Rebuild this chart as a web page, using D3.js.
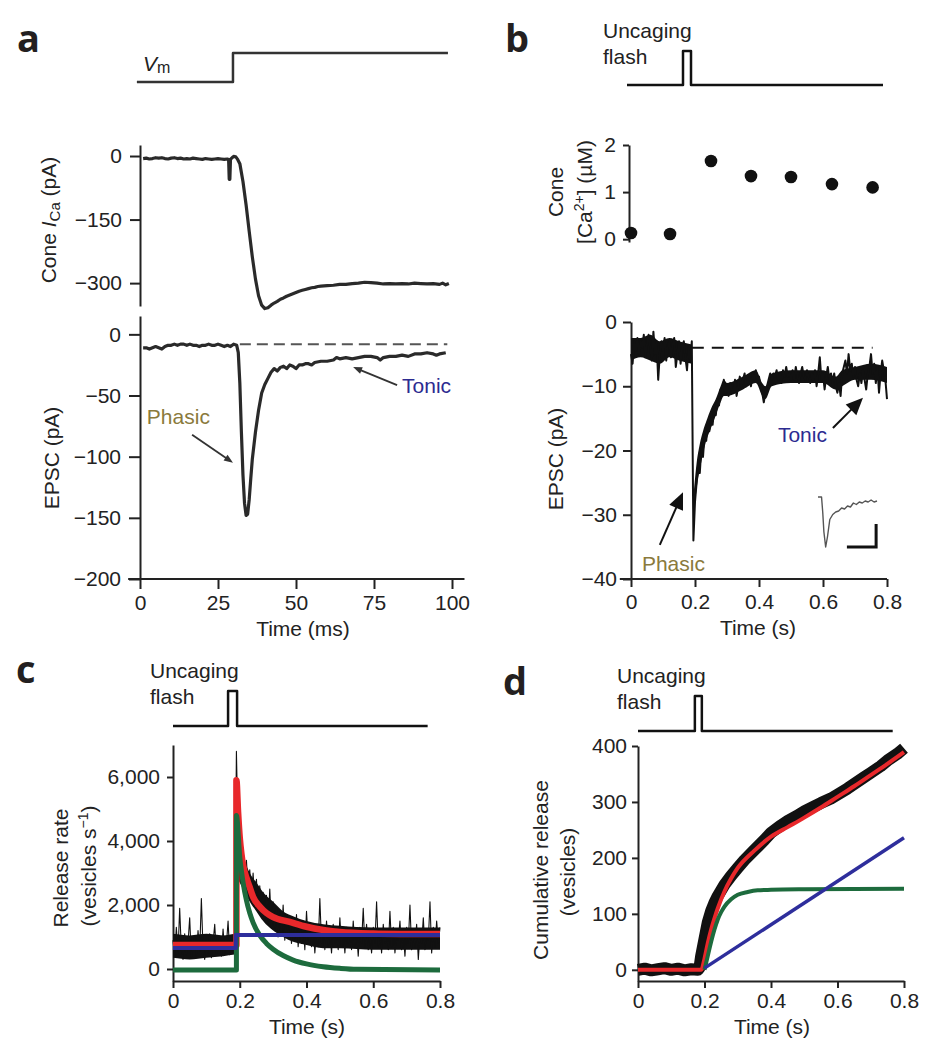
<!DOCTYPE html>
<html><head><meta charset="utf-8">
<script src="https://cdn.jsdelivr.net/npm/d3@7"></script>
<style>
body{margin:0;background:#fff;}
svg{display:block;}
</style></head><body>
<svg id="fig" width="931" height="1050"></svg>
<script>
// ---------------- DATA ----------------
// Panel a: voltage step (schematic), cone ICa and EPSC (time in ms, current in pA)
const vmStep = [[-1,0],[29.8,0],[29.8,1],[98.7,1]];
const icaTrace = [[1,-6],[2,-5],[3,-7],[4,-6],[5,-4],[6,-5],[7,-4],[8,-6],[9,-7],[10,-5],[11,-4],[12,-6],[13,-5],[14,-7],[15,-6],[16,-7],[17,-5],[18,-6],[19,-7],[20,-8],[21,-6],[22,-7],[23,-8],[24,-7],[25,-6],[26,-7],[27,-8],[28,-7],[28.4,-8],[28.6,-55],[28.8,-55],[29,-8],[29.5,-4],[30,-1],[30.7,-2],[31.3,-8],[32,-18],[33,-60],[34,-115],[35,-178],[36,-238],[37,-290],[38,-330],[39,-352],[40,-360],[41,-358],[42,-352],[43,-347],[44,-343],[45,-338],[46,-335],[47,-331],[48,-328],[49,-325],[50,-322],[51,-319],[52,-317],[53,-315],[54,-313],[55,-311],[56,-310],[57,-308],[58,-307],[60,-306],[62,-305],[64,-303],[66,-303],[68,-301],[70,-300],[72,-298],[74,-299],[76,-300],[78,-302],[80,-301],[82,-302],[84,-301],[86,-302],[88,-300],[90,-301],[92,-302],[94,-301],[96,-303],[97,-300],[98,-304],[99,-301]];
const epscATrace = [[1,-11],[2,-11],[3,-12],[4,-11],[5,-10],[6,-11],[7,-12],[8,-10],[9,-9],[10,-9],[11,-8],[12,-9],[13,-8],[14,-8],[15,-9],[16,-8],[17,-9],[18,-9],[19,-10],[20,-9],[21,-9],[22,-8],[23,-9],[24,-9],[25,-8],[26,-9],[27,-10],[28,-9],[29,-10],[30,-8],[31,-9],[31.5,-15],[32,-40],[32.5,-80],[33,-115],[33.5,-138],[34,-148],[34.5,-147],[35,-135],[35.5,-118],[36,-102],[37,-80],[38,-62],[39,-48],[40,-41],[41,-36],[42,-31],[43,-28],[44,-30],[45,-27],[46,-26],[47,-28],[48,-25],[49,-26],[50,-28],[51,-25],[52,-25],[53,-24],[54,-24],[55,-25],[56,-23],[58,-22],[60,-22],[62,-21],[63,-19],[64,-20],[66,-19],[68,-20],[70,-19],[72,-18],[74,-18],[76,-19],[77,-21],[78,-19],[80,-18],[82,-18],[84,-17],[86,-18],[88,-16],[90,-16],[92,-15],[94,-16],[95,-17],[96,-16],[98,-15]];
const epscABaseline = [[32,-8],[98.5,-8]];
const icaTicks = [0,-150,-300];
const icaTickLabels = ["0","\u2212150","\u2212300"];
const epscATicks = [0,-50,-100,-150,-200];
const epscATickLabels = ["0","\u221250","\u2212100","\u2212150","\u2212200"];
const timeATicks = [0,25,50,75,100];
const timeATickLabels = ["0","25","50","75","100"];

// Panel b: flash, cone [Ca2+] (uM), EPSC (pA), time in s
const flashB = [[-0.0125,0],[0.1625,0],[0.1625,1],[0.1875,1],[0.1875,0],[0.7875,0]];
const caTimes = [0, 0.122, 0.25, 0.375, 0.5, 0.628, 0.755];
const caValues = [0.13, 0.11, 1.66, 1.34, 1.32, 1.17, 1.10];
const epscBStep = 0.005;
const epscBValues = [-5,-6.5,-3,-4.5,-2.5,-5,-3,-4,-2,-5.5,-3.5,-2,-4,-6,-1.5,-5,-3,-9,-5,-3,-4.5,-2.5,-6,-4,-3,-5.5,-3.5,-2.5,-7,-5,-3,-6.5,-4,-3,-5.5,-7.5,-4,-6,-3,
 -34,-28,-25,-22,-23.5,-19.5,-21,-17.5,-18.5,-16,-17,-15,-16,-13.5,-14.5,-12,-13,-10.5,-11.5,-9,-11,-10,-11.5,-9.5,-10.5,-11,-9,-11.5,-10,-8.5,-10,-9,-8,-10,-9,-8.5,-10,-8,-9,-7.5,-9,-8.5,-10,-11,-12.5,-11,-10,-9,-8,-9,-8,-8.5,-7.5,-9,-8,-9.5,-7.5,-8.5,-7,-8.5,-8,-9,
 -7.5,-9,-7,-8.5,-9.5,-8,-7,-8.5,-9,-7.5,-8.5,-9.5,-8,-9,-7.5,-10,-8,-5.5,-9,-8,-10.5,-8.5,-7,-9,-8,-9.5,-8,-10,-11,-9.5,-11.5,-8,-7,-6,-8,-5,-7.5,-6.5,-8.5,-7,-9,-10,-8,-9.5,-7.5,-9,-10.5,-8,-7,-5,-8,-6.5,-9.5,-7,-11,-8,-6,-7.5,-9,-12];
// dense core of the noisy EPSC trace: [t, low, high]
const epscBBandPre = [[0,-6,-2.5],[0.03,-5.5,-2.5],[0.06,-6,-2],[0.09,-6.5,-3],[0.12,-5.5,-2.5],[0.15,-6,-3],[0.19,-6.5,-3.5]];
const epscBBandPost = [[0.197,-30,-26],[0.205,-26,-22],[0.215,-23,-19],[0.225,-20.5,-17],[0.235,-18.5,-15.5],[0.25,-16.5,-13.5],[0.265,-14.5,-12],[0.28,-12.5,-10],[0.29,-11.5,-9],[0.3,-11.5,-9.5],[0.35,-10.5,-8.5],[0.39,-9.5,-7.5],[0.41,-11.5,-9.5],[0.42,-12,-10],[0.44,-10,-8],[0.5,-9.5,-7.5],[0.6,-9.5,-7.5],[0.64,-10.5,-8.5],[0.66,-10,-7.5],[0.7,-9,-7],[0.75,-9,-6.5],[0.8,-9.5,-7]];
const epscBBaseline = [[0.19,-4],[0.755,-4]];
const insetTrace = [[0,0],[0.06,0],[0.08,-0.3],[0.1,-0.7],[0.13,-1],[0.16,-0.8],[0.2,-0.45],[0.25,-0.35],[0.3,-0.3],[0.35,-0.28],[0.4,-0.22],[0.45,-0.24],[0.5,-0.18],[0.55,-0.2],[0.6,-0.12],[0.65,-0.15],[0.7,-0.1],[0.75,-0.12],[0.8,-0.08],[0.85,-0.1],[0.9,-0.06],[0.95,-0.1],[1,-0.08]];
const caTicks = [0,1,2];
const epscBTicks = [0,-10,-20,-30,-40];
const epscBTickLabels = ["0","\u221210","\u221220","\u221230","\u221240"];
const timeSTicks = [0,0.2,0.4,0.6,0.8];
const timeSTickLabels = ["0","0.2","0.4","0.6","0.8"];

// Panel c: release rate (vesicles/s)
const flashC = [[0,0],[0.165,0],[0.165,1],[0.192,1],[0.192,0],[0.763,0]];
const rateStep = 0.005;
const rateData = [900,400,1300,500,1900,600,300,1100,450,800,1600,350,700,1000,400,1200,550,2200,600,300,900,500,1100,350,800,1400,450,650,1000,400,1250,500,750,1500,450,900,600,1100,
 6800,
 4200,3500,2800,3600,2700,3400,2500,3100,2200,3000,2100,2800,1900,2600,1700,2400,1500,2300,1400,2500,1300,2100,1200,1900,1000,1800,1100,2000,900,1700,1000,1600,800,1500,900,1700,700,1400,800,1500,600,1800,900,1400,700,1300,500,1200,
 700,2200,800,1300,600,1500,700,1200,500,1400,800,1100,600,1600,700,1200,500,1300,800,1100,600,1500,700,1200,400,1300,800,1900,700,1400,600,1100,500,1300,800,2100,700,1200,500,1400,800,1100,600,1800,700,1300,500,1200,900,1500,600,1100,400,1300,800,2000,600,1200,700,1400,300,1100,800,1600,600,1200,900,2100,500,1300,700,1500,800,1300];
// dense core of the noisy trace: [t, low, high]
const rateBandPre = [[0,350,1100],[0.05,300,1050],[0.1,350,1100],[0.15,400,1050],[0.185,450,1100]];
const rateBandPost = [[0.195,2800,4000],[0.21,2500,3500],[0.23,2100,3000],[0.25,1800,2700],[0.27,1500,2400],[0.3,1200,2100],[0.33,1000,1800],[0.36,850,1650],[0.4,750,1500],[0.45,650,1400],[0.5,650,1350],[0.6,600,1300],[0.7,600,1300],[0.8,600,1300]];
const rateFitTotal = [[0,750],[0.19,750],[0.19,5900],[0.195,4900],[0.2,4100],[0.205,3600],[0.21,3250],[0.22,2850],[0.23,2550],[0.24,2250],[0.26,1950],[0.28,1750],[0.3,1620],[0.35,1470],[0.4,1320],[0.45,1220],[0.5,1160],[0.6,1110],[0.7,1095],[0.8,1090]];
const rateFitPhasic = [[0,-30],[0.19,-30],[0.19,4800],[0.2,3500],[0.21,2700],[0.22,2150],[0.23,1750],[0.24,1450],[0.26,1050],[0.28,800],[0.3,620],[0.33,420],[0.36,280],[0.4,160],[0.45,70],[0.5,20],[0.55,-10],[0.8,-30]];
const rateFitTonic = [[0,660],[0.188,660],[0.188,1060],[0.8,1060]];
const rateTicks = [0,2000,4000,6000];
const rateTickLabels = ["0","2,000","4,000","6,000"];

// Panel d: cumulative release (vesicles)
const flashD = [[0,0],[0.171,0],[0.171,1],[0.192,1],[0.192,0],[0.766,0]];
const cumData = [[0,0],[0.02,2],[0.04,-1],[0.06,1],[0.08,3],[0.1,0],[0.12,2],[0.14,-1],[0.16,1],[0.18,0],[0.185,4],[0.19,25],[0.2,55],[0.21,85],[0.22,105],[0.23,120],[0.24,132],[0.26,152],[0.28,168],[0.3,182],[0.32,196],[0.35,214],[0.38,232],[0.4,245],[0.43,258],[0.45,266],[0.48,276],[0.5,283],[0.53,292],[0.55,298],[0.58,306],[0.6,313],[0.63,324],[0.65,332],[0.68,344],[0.7,352],[0.73,364],[0.75,374],[0.78,386],[0.8,396]];
const cumFitTotal = [[0,0],[0.19,0],[0.2,20],[0.21,48],[0.22,72],[0.23,92],[0.24,110],[0.26,140],[0.28,163],[0.3,182],[0.35,213],[0.4,238],[0.45,255],[0.5,272],[0.55,290],[0.6,309],[0.65,328],[0.7,348],[0.75,368],[0.8,389]];
const cumFitPhasic = [[0.2,0],[0.21,25],[0.22,50],[0.23,72],[0.24,90],[0.25,103],[0.26,113],[0.28,126],[0.3,134],[0.33,139],[0.36,142],[0.4,143],[0.5,144],[0.8,145]];
const cumFitTonic = [[0.2,3],[0.8,236]];
const cumTicks = [0,100,200,300,400];
const cumTickLabels = ["0","100","200","300","400"];

// ---------------- DRAWING ----------------
const FONT = "'Liberation Sans', Arial, Helvetica, sans-serif";
const FS = 21;
const svg = d3.select("#fig");
svg.append("rect").attr("width",931).attr("height",1050).attr("fill","#fff");

function styleAxis(g){
  g.selectAll("path,line").attr("stroke","#222").attr("stroke-width",2);
  g.selectAll("text").attr("font-size",FS).attr("fill","#222").attr("font-family",FONT);
}
function drawLine(g, data, x, y, color, width, curve){
  return g.append("path").datum(data)
    .attr("d", d3.line().x(d=>x(d[0])).y(d=>y(d[1])).curve(curve||d3.curveLinear))
    .attr("fill","none").attr("stroke",color).attr("stroke-width",width)
    .attr("stroke-linejoin","round").attr("stroke-linecap","butt");
}
function drawBand(g, data, x, y, color){
  return g.append("path").datum(data)
    .attr("d", d3.area().x(d=>x(d[0])).y0(d=>y(d[1])).y1(d=>y(d[2])).curve(d3.curveMonotoneX))
    .attr("fill",color);
}
function text(g, x, y, str, opts={}){
  const t = g.append("text").attr("x",x).attr("y",y).text(str)
    .attr("font-family",opts.family||FONT).attr("font-size",opts.size||FS)
    .attr("fill",opts.fill||"#222");
  if(opts.weight) t.attr("font-weight",opts.weight);
  if(opts.anchor) t.attr("text-anchor",opts.anchor);
  return t;
}
function rotLabel(g, cx, cy, parts){
  const t = g.append("text").attr("transform",`translate(${cx},${cy}) rotate(-90)`)
    .attr("text-anchor","middle").attr("dy","0.35em")
    .attr("font-family",FONT).attr("font-size",FS).attr("fill","#222");
  parts.forEach(p=>{
    const s = t.append("tspan").text(p.t);
    if(p.italic) s.attr("font-style","italic");
    if(p.size) s.attr("font-size",p.size);
    if(p.dy) s.attr("dy",p.dy);
  });
  return t;
}
function arrow(g, x1,y1,x2,y2,len,hw,color,sw){
  const dx=x2-x1, dy=y2-y1, L=Math.hypot(dx,dy), ux=dx/L, uy=dy/L;
  const bx=x2-ux*len, by=y2-uy*len;
  g.append("line").attr("x1",x1).attr("y1",y1).attr("x2",bx+ux*1).attr("y2",by+uy*1)
    .attr("stroke",color).attr("stroke-width",sw);
  g.append("path").attr("d",`M${x2},${y2}L${bx-uy*hw},${by+ux*hw}L${bx+uy*hw},${by-ux*hw}Z`).attr("fill",color);
}
function panelLetter(x,y,s){
  text(svg,x,y,s,{family:"'Open Sans', 'Liberation Sans', sans-serif",size:38,weight:700,fill:"#231f20"});
}

const PHASIC = "#8a7a3c", TONIC = "#2c2b90";

// ===== Panel a =====
const gA = svg.append("g");
const xA = d3.scaleLinear().domain([0,100]).range([140,452]);
const yVm = d3.scaleLinear().domain([0,1]).range([82,53]);
const yIca = d3.scaleLinear().domain([26,-354]).range([145,306]);
const yEA = d3.scaleLinear().domain([15,-200]).range([316,579]);
panelLetter(17,52,"a");
drawLine(gA, vmStep, xA, yVm, "#333", 2.5);
const vm = gA.append("text").attr("x",143).attr("y",71).attr("font-family",FONT).attr("font-size",FS).attr("fill","#222");
vm.append("tspan").text("V").attr("font-style","italic");
vm.append("tspan").text("m").attr("font-size",16).attr("dy",2);

gA.append("g").attr("transform","translate(140,0)")
  .call(d3.axisLeft(yIca).tickValues(icaTicks).tickFormat((d,i)=>icaTickLabels[i]).tickSize(10).tickPadding(8).tickSizeOuter(0))
  .call(styleAxis);
gA.append("g").attr("transform","translate(140,0)")
  .call(d3.axisLeft(yEA).tickValues(epscATicks).tickFormat((d,i)=>epscATickLabels[i]).tickSize(11).tickPadding(8).tickSizeOuter(0))
  .call(styleAxis);
const axA = gA.append("g").attr("transform","translate(0,579)")
  .call(d3.axisBottom(xA).tickValues(timeATicks).tickFormat((d,i)=>timeATickLabels[i]).tickSize(10).tickPadding(6).tickSizeOuter(0))
  .call(styleAxis);
axA.select(".domain").remove();
gA.append("line").attr("x1",xA(-3.8)).attr("x2",xA(104)).attr("y1",579).attr("y2",579).attr("stroke","#222").attr("stroke-width",2);

drawLine(gA, icaTrace, xA, yIca, "#2a2a2a", 3.2);
drawLine(gA, epscABaseline, xA, yEA, "#555", 2).attr("stroke-dasharray","11,6");
drawLine(gA, epscATrace, xA, yEA, "#2a2a2a", 3.2);

rotLabel(gA, 49, 220, [{t:"Cone "},{t:"I",italic:true},{t:"Ca",size:15,dy:4},{t:" (pA)",dy:-4}]);
rotLabel(gA, 52, 458, [{t:"EPSC (pA)"}]);
text(gA, 303, 636, "Time (ms)", {anchor:"middle"});
text(gA, xA(2.2), yEA(-73), "Phasic", {fill:PHASIC});
arrow(gA, xA(16.7), yEA(-82), xA(29.8), yEA(-105), 9, 3.5, "#333", 1.8);
text(gA, xA(84), yEA(-48), "Tonic", {fill:TONIC});
arrow(gA, xA(82.4), yEA(-41.5), xA(68.3), yEA(-26.7), 9, 3.5, "#333", 1.8);

// ===== Panel b =====
const gB = svg.append("g");
const xB = d3.scaleLinear().domain([0,0.8]).range([631,887]);
const yFB = d3.scaleLinear().domain([0,1]).range([85,51]);
const yCa = d3.scaleLinear().domain([-0.06,2]).range([242,145]);
const yEB = d3.scaleLinear().domain([0,-40]).range([322,579]);
panelLetter(505,52,"b");
text(gB, 603, 38, "Uncaging");
text(gB, 603, 64, "flash");
drawLine(gB, flashB, xB, yFB, "#111", 2.5);

gB.append("g").attr("transform","translate(629,0)")
  .call(d3.axisLeft(yCa).tickValues(caTicks).tickFormat(d3.format("d")).tickSize(6).tickPadding(7).tickSizeOuter(0))
  .call(styleAxis);
gB.append("g").selectAll("circle").data(caTimes).join("circle")
  .attr("cx",d=>xB(d)).attr("cy",(d,i)=>yCa(caValues[i])).attr("r",6.3).attr("fill","#111");
rotLabel(gB, 556, 192, [{t:"Cone"}]);
rotLabel(gB, 585, 192, [{t:"[Ca"},{t:"2+",size:14,dy:-8},{t:"] (\u00b5M)",dy:8}]);

gB.append("g").attr("transform","translate(631,0)")
  .call(d3.axisLeft(yEB).tickValues(epscBTicks).tickFormat((d,i)=>epscBTickLabels[i]).tickSize(8).tickPadding(6).tickSizeOuter(0))
  .call(styleAxis);
const axB = gB.append("g").attr("transform","translate(0,579)")
  .call(d3.axisBottom(xB).tickValues(timeSTicks).tickFormat((d,i)=>timeSTickLabels[i]).tickSize(8).tickPadding(7).tickSizeOuter(0))
  .call(styleAxis);
axB.select(".domain").remove();
gB.append("line").attr("x1",xB(-0.035)).attr("x2",xB(0.8)).attr("y1",579).attr("y2",579).attr("stroke","#222").attr("stroke-width",2);

drawLine(gB, epscBBaseline, xB, yEB, "#111", 2).attr("stroke-dasharray","12,8");
drawBand(gB, epscBBandPre, xB, yEB, "#111");
drawBand(gB, epscBBandPost, xB, yEB, "#111");
drawLine(gB, epscBValues.map((v,i)=>[i*epscBStep, v]), xB, yEB, "#111", 2);
rotLabel(gB, 556, 459, [{t:"EPSC (pA)"}]);
text(gB, 758, 635, "Time (s)", {anchor:"middle"});
text(gB, xB(0.459), yEB(-18.7), "Tonic", {fill:TONIC});
arrow(gB, xB(0.631), yEB(-16.5), xB(0.725), yEB(-11.8), 17, 7.5, "#111", 2);
text(gB, xB(0.034), yEB(-38.8), "Phasic", {fill:PHASIC});
arrow(gB, xB(0.09), yEB(-34.7), xB(0.1625), yEB(-26.5), 17, 7.5, "#111", 2);
// inset
const xIn = d3.scaleLinear().domain([0,1]).range([818,877]);
const yIn = d3.scaleLinear().domain([0,-1]).range([497,547]);
drawLine(gB, insetTrace, xIn, yIn, "#555", 1.4);
gB.append("path").attr("d",`M${xIn(0.49)},${yIn(-1)}H${xIn(0.985)}V${yIn(-0.54)}`).attr("fill","none").attr("stroke","#111").attr("stroke-width",3);

// ===== Panel c =====
const gC = svg.append("g");
const xC = d3.scaleLinear().domain([0,0.8]).range([173,440]);
const yFC = d3.scaleLinear().domain([0,1]).range([726,691]);
const yC = d3.scaleLinear().domain([-375,7000]).range([981,745]);
panelLetter(16,683,"c");
text(gC, 150, 678, "Uncaging");
text(gC, 150, 704, "flash");
drawLine(gC, flashC, xC, yFC, "#111", 2.5);
gC.append("g").attr("transform","translate(173,0)")
  .call(d3.axisLeft(yC).tickValues(rateTicks).tickFormat((d,i)=>rateTickLabels[i]).tickSize(6).tickPadding(7).tickSizeOuter(0))
  .call(styleAxis);
gC.append("g").attr("transform","translate(0,981)")
  .call(d3.axisBottom(xC).tickValues(timeSTicks).tickFormat((d,i)=>timeSTickLabels[i]).tickSize(7).tickPadding(5).tickSizeOuter(0))
  .call(styleAxis);
drawBand(gC, rateBandPre, xC, yC, "#111");
drawBand(gC, rateBandPost, xC, yC, "#111");
drawLine(gC, rateData.map((v,i)=>[i*rateStep, v]), xC, yC, "#111", 1.1);
drawLine(gC, rateFitTotal, xC, yC, "#e8282b", 6.5, d3.curveMonotoneX);
drawLine(gC, rateFitPhasic, xC, yC, "#1d6b3d", 5, d3.curveMonotoneX);
drawLine(gC, rateFitTonic, xC, yC, "#2e2e9c", 4);
rotLabel(gC, 61, 868, [{t:"Release rate"}]);
rotLabel(gC, 89, 866, [{t:"(vesicles s"},{t:"\u22121",size:14,dy:-8},{t:")",dy:8}]);
text(gC, 307, 1034, "Time (s)", {anchor:"middle"});

// ===== Panel d =====
const gD = svg.append("g");
const xD = d3.scaleLinear().domain([0,0.8]).range([638,904]);
const yFD = d3.scaleLinear().domain([0,1]).range([731,696]);
const yD = d3.scaleLinear().domain([-20,400]).range([981,746]);
panelLetter(503,695,"d");
text(gD, 617, 683, "Uncaging");
text(gD, 617, 709, "flash");
drawLine(gD, flashD, xD, yFD, "#111", 2.5);
gD.append("g").attr("transform","translate(638,0)")
  .call(d3.axisLeft(yD).tickValues(cumTicks).tickFormat((d,i)=>cumTickLabels[i]).tickSize(6).tickPadding(5).tickSizeOuter(0))
  .call(styleAxis);
gD.append("g").attr("transform","translate(0,981)")
  .call(d3.axisBottom(xD).tickValues(timeSTicks).tickFormat((d,i)=>timeSTickLabels[i]).tickSize(7).tickPadding(5).tickSizeOuter(0))
  .call(styleAxis);
drawLine(gD, cumData, xD, yD, "#111", 12);
drawLine(gD, cumFitTotal, xD, yD, "#e8282b", 4, d3.curveMonotoneX);
drawLine(gD, cumFitPhasic, xD, yD, "#1d6b3d", 4, d3.curveMonotoneX);
drawLine(gD, cumFitTonic, xD, yD, "#2e2e9c", 3.5);
rotLabel(gD, 541, 870, [{t:"Cumulative release"}]);
rotLabel(gD, 568, 872, [{t:"(vesicles)"}]);
text(gD, 772, 1034, "Time (s)", {anchor:"middle"});
</script>
</body></html>
